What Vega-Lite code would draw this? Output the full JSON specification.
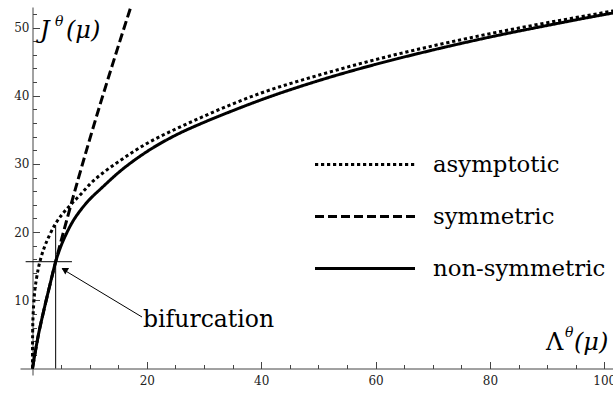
{
  "$schema": "https://vega.github.io/schema/vega-lite/v6.json",
  "width": 593,
  "height": 368,
  "autosize": "none",
  "padding": {"left": 20, "top": 7, "right": 0, "bottom": 19},
  "background": "white",
  "config": {"view": {"stroke": null}, "text": {"font": "DejaVu Serif"}},
  "datasets": {
    "curves": [
      {"series": "asymptotic", "lambda": 0, "J": 0},
      {"series": "asymptotic", "lambda": 0.003, "J": 2.9},
      {"series": "asymptotic", "lambda": 0.01, "J": 4.1},
      {"series": "asymptotic", "lambda": 0.03, "J": 5.6},
      {"series": "asymptotic", "lambda": 0.1, "J": 7.7},
      {"series": "asymptotic", "lambda": 0.2, "J": 9.3},
      {"series": "asymptotic", "lambda": 0.4, "J": 11.4},
      {"series": "asymptotic", "lambda": 0.7, "J": 13.2},
      {"series": "asymptotic", "lambda": 1, "J": 14.6},
      {"series": "asymptotic", "lambda": 1.5, "J": 16.3},
      {"series": "asymptotic", "lambda": 2, "J": 17.6},
      {"series": "asymptotic", "lambda": 3, "J": 19.6},
      {"series": "asymptotic", "lambda": 4, "J": 21.2},
      {"series": "asymptotic", "lambda": 5, "J": 22.4},
      {"series": "asymptotic", "lambda": 6, "J": 23.4},
      {"series": "asymptotic", "lambda": 7, "J": 24.3},
      {"series": "asymptotic", "lambda": 8.5, "J": 25.6},
      {"series": "asymptotic", "lambda": 10, "J": 27.0},
      {"series": "asymptotic", "lambda": 12.5, "J": 28.8},
      {"series": "asymptotic", "lambda": 15, "J": 30.3},
      {"series": "asymptotic", "lambda": 20, "J": 33.0},
      {"series": "asymptotic", "lambda": 25, "J": 35.1},
      {"series": "asymptotic", "lambda": 30, "J": 37.0},
      {"series": "asymptotic", "lambda": 35, "J": 38.8},
      {"series": "asymptotic", "lambda": 40, "J": 40.4},
      {"series": "asymptotic", "lambda": 50, "J": 43.0},
      {"series": "asymptotic", "lambda": 60, "J": 45.3},
      {"series": "asymptotic", "lambda": 70, "J": 47.3},
      {"series": "asymptotic", "lambda": 80, "J": 49.1},
      {"series": "asymptotic", "lambda": 90, "J": 50.7},
      {"series": "asymptotic", "lambda": 100, "J": 52.2},
      {"series": "asymptotic", "lambda": 102, "J": 52.5},
      {"series": "symmetric", "lambda": 0, "J": 0},
      {"series": "symmetric", "lambda": 1, "J": 4.8},
      {"series": "symmetric", "lambda": 2, "J": 8.6},
      {"series": "symmetric", "lambda": 3, "J": 12.1},
      {"series": "symmetric", "lambda": 4.05, "J": 15.66},
      {"series": "symmetric", "lambda": 6, "J": 21.8},
      {"series": "symmetric", "lambda": 8, "J": 27.8},
      {"series": "symmetric", "lambda": 10, "J": 33.6},
      {"series": "symmetric", "lambda": 12, "J": 39.2},
      {"series": "symmetric", "lambda": 14, "J": 44.6},
      {"series": "symmetric", "lambda": 16, "J": 49.9},
      {"series": "symmetric", "lambda": 18, "J": 55.1},
      {"series": "non-symmetric", "lambda": 0, "J": 0},
      {"series": "non-symmetric", "lambda": 1, "J": 4.8},
      {"series": "non-symmetric", "lambda": 2, "J": 8.6},
      {"series": "non-symmetric", "lambda": 3, "J": 12.1},
      {"series": "non-symmetric", "lambda": 4.05, "J": 15.66},
      {"series": "non-symmetric", "lambda": 5, "J": 18.0},
      {"series": "non-symmetric", "lambda": 6, "J": 19.9},
      {"series": "non-symmetric", "lambda": 7, "J": 21.5},
      {"series": "non-symmetric", "lambda": 8.3, "J": 23.1},
      {"series": "non-symmetric", "lambda": 10, "J": 24.8},
      {"series": "non-symmetric", "lambda": 12, "J": 26.4},
      {"series": "non-symmetric", "lambda": 15, "J": 28.7},
      {"series": "non-symmetric", "lambda": 20, "J": 31.8},
      {"series": "non-symmetric", "lambda": 25, "J": 34.2},
      {"series": "non-symmetric", "lambda": 30, "J": 36.1},
      {"series": "non-symmetric", "lambda": 35, "J": 37.8},
      {"series": "non-symmetric", "lambda": 40, "J": 39.4},
      {"series": "non-symmetric", "lambda": 50, "J": 42.2},
      {"series": "non-symmetric", "lambda": 60, "J": 44.6},
      {"series": "non-symmetric", "lambda": 70, "J": 46.7},
      {"series": "non-symmetric", "lambda": 80, "J": 48.6},
      {"series": "non-symmetric", "lambda": 90, "J": 50.3},
      {"series": "non-symmetric", "lambda": 100, "J": 51.9},
      {"series": "non-symmetric", "lambda": 102, "J": 52.2}
    ],
    "bifurcation": [{"lambda": 4.05, "J": 15.66}]
  },
  "encoding": {
    "x": {
      "field": "lambda",
      "type": "quantitative",
      "scale": {"domain": [-2.186, 101.52], "nice": false, "zero": false},
      "axis": {
        "title": null,
        "grid": false,
        "values": [5, 10, 15, 20, 25, 30, 35, 40, 45, 50, 55, 60, 65, 70, 75, 80, 85, 90, 95, 100],
        "labelExpr": "datum.value % 20 === 0 ? datum.label : ''",
        "offset": -6.5,
        "tickSize": {"condition": {"test": "datum.value % 20 === 0", "value": -7}, "value": -4},
        "labelPadding": 13.5,
        "domainColor": "#444",
        "tickColor": "#444",
        "labelFont": "DejaVu Serif",
        "labelFontSize": 12,
        "labelColor": "#222",
        "labelOverlap": false,
        "labelFlush": false,
        "labelBound": false
      }
    },
    "y": {
      "field": "J",
      "type": "quantitative",
      "scale": {"domain": [-0.953, 53.01], "nice": false, "zero": false},
      "axis": {
        "title": null,
        "grid": false,
        "values": [2, 4, 6, 8, 10, 12, 14, 16, 18, 20, 22, 24, 26, 28, 30, 32, 34, 36, 38, 40, 42, 44, 46, 48, 50, 52],
        "labelExpr": "datum.value % 10 === 0 ? datum.label : ''",
        "offset": -12.5,
        "tickSize": {"condition": {"test": "datum.value % 10 === 0", "value": -7}, "value": -4},
        "labelPadding": 10.5,
        "domainColor": "#444",
        "tickColor": "#444",
        "labelFont": "DejaVu Serif",
        "labelFontSize": 12,
        "labelColor": "#222",
        "labelOverlap": false,
        "labelFlush": false,
        "labelBound": false
      }
    }
  },
  "layer": [
    {
      "data": {"name": "bifurcation"},
      "mark": {"type": "rule", "color": "black", "strokeWidth": 1},
      "encoding": {
        "y": {"datum": 0, "type": "quantitative"},
        "y2": {"datum": 21.0}
      }
    },
    {
      "data": {"name": "bifurcation"},
      "mark": {"type": "rule", "color": "black", "strokeWidth": 1},
      "encoding": {
        "x": {"datum": -1.2, "type": "quantitative"},
        "x2": {"datum": 6.9}
      }
    },
    {
      "data": {"name": "bifurcation"},
      "mark": {"type": "rule", "color": "black", "strokeWidth": 1},
      "encoding": {
        "x": {"datum": 19.15, "type": "quantitative"},
        "y": {"datum": 7.55, "type": "quantitative"},
        "x2": {"datum": 5.2},
        "y2": {"datum": 14.6}
      }
    },
    {
      "data": {"name": "bifurcation"},
      "mark": {"type": "point", "shape": "triangle-up", "filled": true, "color": "black", "size": 55, "angle": 301, "opacity": 1},
      "encoding": {
        "x": {"datum": 5.58, "type": "quantitative"},
        "y": {"datum": 14.51, "type": "quantitative"}
      }
    },
    {
      "data": {"name": "curves"},
      "mark": {"type": "line", "color": "black", "strokeWidth": 3, "clip": true, "interpolate": "monotone"},
      "encoding": {
        "strokeDash": {
          "field": "series",
          "type": "nominal",
          "scale": {
            "domain": ["asymptotic", "symmetric", "non-symmetric"],
            "range": [[3.2, 2.8], [9, 4], [1, 0]]
          },
          "legend": {
            "title": null,
            "orient": "none",
            "legendX": 293.5,
            "legendY": 131.5,
            "padding": 0,
            "rowPadding": 0,
            "clipHeight": 52,
            "symbolType": "stroke",
            "symbolSize": 10000,
            "symbolStrokeWidth": 3,
            "symbolStrokeColor": "black",
            "labelFont": "DejaVu Serif",
            "labelFontSize": 22.8,
            "labelColor": "black",
            "labelOffset": 16.5,
            "labelLimit": 0
          }
        }
      }
    },
    {
      "data": {"name": "bifurcation"},
      "mark": {"type": "text", "align": "left", "baseline": "alphabetic", "fontStyle": "italic", "fontSize": 24, "color": "black"},
      "encoding": {
        "x": {"datum": 1.3, "type": "quantitative"},
        "y": {"datum": 48.46, "type": "quantitative"},
        "text": {"value": "J"}
      }
    },
    {
      "data": {"name": "bifurcation"},
      "mark": {"type": "text", "align": "left", "baseline": "alphabetic", "fontStyle": "italic", "fontSize": 14, "color": "black", "dx": 15, "dy": -12},
      "encoding": {
        "x": {"datum": 1.3, "type": "quantitative"},
        "y": {"datum": 48.46, "type": "quantitative"},
        "text": {"value": "θ"}
      }
    },
    {
      "data": {"name": "bifurcation"},
      "mark": {"type": "text", "align": "left", "baseline": "alphabetic", "fontStyle": "italic", "fontSize": 24, "color": "black", "dx": 26},
      "encoding": {
        "x": {"datum": 1.3, "type": "quantitative"},
        "y": {"datum": 48.46, "type": "quantitative"},
        "text": {"value": "(μ)"}
      }
    },
    {
      "data": {"name": "bifurcation"},
      "mark": {"type": "text", "align": "left", "baseline": "alphabetic", "fontSize": 24, "color": "black"},
      "encoding": {
        "x": {"datum": 89.8, "type": "quantitative"},
        "y": {"datum": 2.71, "type": "quantitative"},
        "text": {"value": "Λ"}
      }
    },
    {
      "data": {"name": "bifurcation"},
      "mark": {"type": "text", "align": "left", "baseline": "alphabetic", "fontStyle": "italic", "fontSize": 14, "color": "black", "dx": 19, "dy": -13},
      "encoding": {
        "x": {"datum": 89.8, "type": "quantitative"},
        "y": {"datum": 2.71, "type": "quantitative"},
        "text": {"value": "θ"}
      }
    },
    {
      "data": {"name": "bifurcation"},
      "mark": {"type": "text", "align": "left", "baseline": "alphabetic", "fontStyle": "italic", "fontSize": 24, "color": "black", "dx": 28},
      "encoding": {
        "x": {"datum": 89.8, "type": "quantitative"},
        "y": {"datum": 2.71, "type": "quantitative"},
        "text": {"value": "(μ)"}
      }
    },
    {
      "data": {"name": "bifurcation"},
      "mark": {"type": "text", "align": "left", "baseline": "alphabetic", "fontSize": 23.5, "color": "black"},
      "encoding": {
        "x": {"datum": 19.33, "type": "quantitative"},
        "y": {"datum": 6.09, "type": "quantitative"},
        "text": {"value": "bifurcation"}
      }
    }
  ]
}
